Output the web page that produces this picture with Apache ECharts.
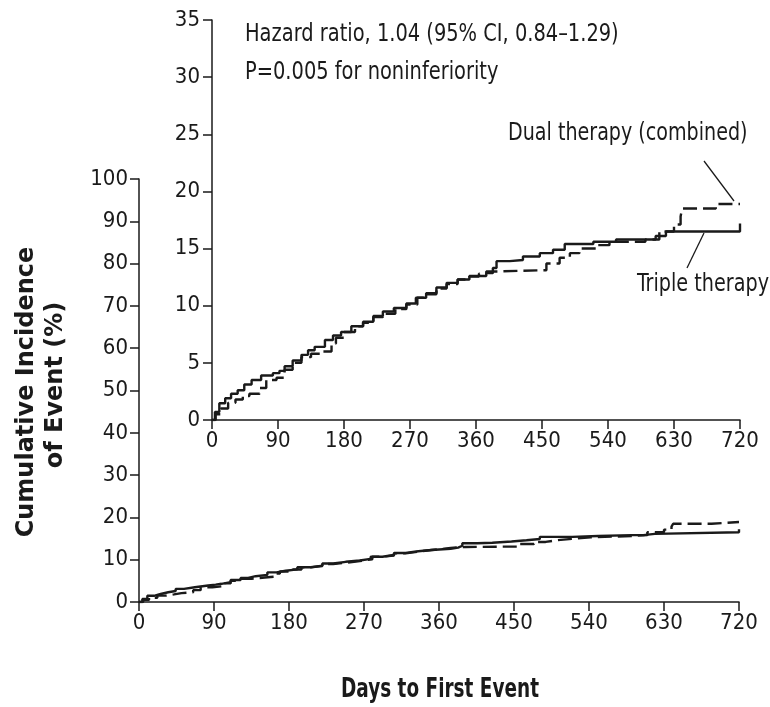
<!DOCTYPE html>
<html>
<head>
<meta charset="utf-8">
<script src="https://cdn.jsdelivr.net/npm/echarts@6/dist/echarts.min.js"></script>
<style>
  html, body { margin: 0; padding: 0; background: #fff; }
  #chart { width: 770px; height: 707px; }
</style>
</head>
<body>
<div id="chart"></div>
<script>
// days / cumulative incidence (%)
const tripleDays = [0, 4, 10, 18, 26, 35, 44, 54, 67, 83, 92, 99, 110, 122, 131, 140, 154, 165, 176, 190, 206, 220, 233, 248, 265, 278, 292, 306, 320, 335, 351, 374, 383, 388, 406, 424, 447, 465, 481, 520, 551, 591, 605, 619, 720];
const tripleVals = [0, 0.7, 1.46, 1.9, 2.3, 2.6, 3.1, 3.5, 3.9, 4.1, 4.3, 4.7, 5.2, 5.7, 6.1, 6.4, 7.0, 7.4, 7.7, 8.2, 8.6, 9.1, 9.5, 9.8, 10.2, 10.7, 11.1, 11.6, 12.0, 12.3, 12.6, 12.85, 13.3, 13.9, 14.0, 14.3, 14.6, 14.9, 15.4, 15.6, 15.8, 15.8, 16.1, 16.5, 17.2];

const dualDays = [0, 5, 12, 22, 32, 42, 51, 65, 74, 88, 99, 110, 122, 135, 151, 163, 169, 180, 195, 206, 220, 233, 250, 265, 280, 292, 306, 320, 335, 351, 364, 374, 392, 447, 456, 474, 488, 501, 524, 542, 591, 610, 630, 639, 641, 687, 720];
const dualVals = [0, 0.5, 1.0, 1.5, 1.8, 2.1, 2.3, 2.8, 3.5, 3.7, 4.4, 5.0, 5.5, 5.8, 6.0, 6.7, 7.2, 7.7, 8.2, 8.5, 9.0, 9.3, 9.7, 10.1, 10.7, 11.0, 11.5, 11.9, 12.3, 12.55, 12.8, 13.0, 13.1, 13.1, 13.7, 14.2, 14.6, 15.0, 15.3, 15.6, 15.8, 16.5, 17.1, 17.8, 18.5, 18.9, 18.9];

const tripleData = tripleDays.map((d, i) => [d, tripleVals[i]]);
const dualData = dualDays.map((d, i) => [d, dualVals[i]]);

const ink = '#1a1a1a';
const tickFont = '"DejaVu Sans Condensed", "Liberation Sans", sans-serif';

function xAxis(gridIndex, margin) {
    return {
        type: 'value', gridIndex: gridIndex,
        min: 0, max: 720, interval: 90,
        axisLine: { show: true, onZero: false, lineStyle: { color: ink, width: 1.5 } },
        axisTick: { show: true, length: 9, lineStyle: { color: ink, width: 1.5 } },
        axisLabel: { margin: margin, color: ink, fontSize: 22, fontFamily: tickFont, showMaxLabel: true },
        splitLine: { show: false }
    };
}

function yAxis(gridIndex, max, interval, margin) {
    return {
        type: 'value', gridIndex: gridIndex,
        min: 0, max: max, interval: interval,
        axisLine: { show: true, onZero: false, lineStyle: { color: ink, width: 1.5 } },
        axisTick: { show: true, length: 9, lineStyle: { color: ink, width: 1.5 } },
        axisLabel: { margin: margin, color: ink, fontSize: 22, fontFamily: tickFont },
        splitLine: { show: false }
    };
}

function curves(idx) {
    return [
        {
            name: 'Triple therapy', type: 'line', step: 'end',
            xAxisIndex: idx, yAxisIndex: idx,
            data: tripleData, showSymbol: false, silent: true,
            lineStyle: { color: ink, width: 2.4 }
        },
        {
            name: 'Dual therapy (combined)', type: 'line', step: 'end',
            xAxisIndex: idx, yAxisIndex: idx,
            data: dualData, showSymbol: false, silent: true,
            lineStyle: { color: ink, width: 2.4, type: [14, 6] }
        }
    ];
}

// condensed-looking annotation text
function note(text, x, y, sx) {
    return {
        type: 'text', x: x, y: y, scaleX: sx,
        style: { text: text, fill: ink, font: '24px ' + tickFont, verticalAlign: 'top' }
    };
}

const chart = echarts.init(document.getElementById('chart'), null, { renderer: 'canvas' });

chart.setOption({
    animation: false,
    backgroundColor: '#fff',
    grid: [
        { left: 139, top: 179, width: 600, height: 423 },
        { left: 212, top: 20, width: 528, height: 400 }
    ],
    xAxis: [xAxis(0, 10), xAxis(1, 10)],
    yAxis: [yAxis(0, 100, 10, 11), yAxis(1, 35, 5, 12)],
    series: curves(0).concat(curves(1)),
    graphic: [
        note('Hazard ratio, 1.04 (95% CI, 0.84\u20131.29)', 245, 23, 0.9),
        note('P=0.005 for noninferiority', 245, 61, 0.9),
        note('Dual therapy (combined)', 508, 122, 0.885),
        note('Triple therapy', 637, 273, 0.89),
        {
            type: 'line', shape: { x1: 704, y1: 161, x2: 734, y2: 201 },
            style: { stroke: ink, lineWidth: 1.3 }
        },
        {
            type: 'line', shape: { x1: 704, y1: 233, x2: 687, y2: 268 },
            style: { stroke: ink, lineWidth: 1.3 }
        },
        {
            type: 'text', x: 27, y: 392, rotation: Math.PI / 2,
            style: {
                text: 'Cumulative Incidence', fill: ink,
                font: 'bold 24px "DejaVu Sans", sans-serif',
                align: 'center', verticalAlign: 'middle'
            }
        },
        {
            type: 'text', x: 56, y: 385, rotation: Math.PI / 2,
            style: {
                text: 'of Event (%)', fill: ink,
                font: 'bold 24px "DejaVu Sans", sans-serif',
                align: 'center', verticalAlign: 'middle'
            }
        },
        {
            type: 'text', x: 440, y: 690, scaleX: 0.76,
            style: {
                text: 'Days to First Event', fill: ink,
                font: 'bold 27px ' + tickFont,
                align: 'center', verticalAlign: 'middle'
            }
        }
    ]
});
</script>
</body>
</html>
